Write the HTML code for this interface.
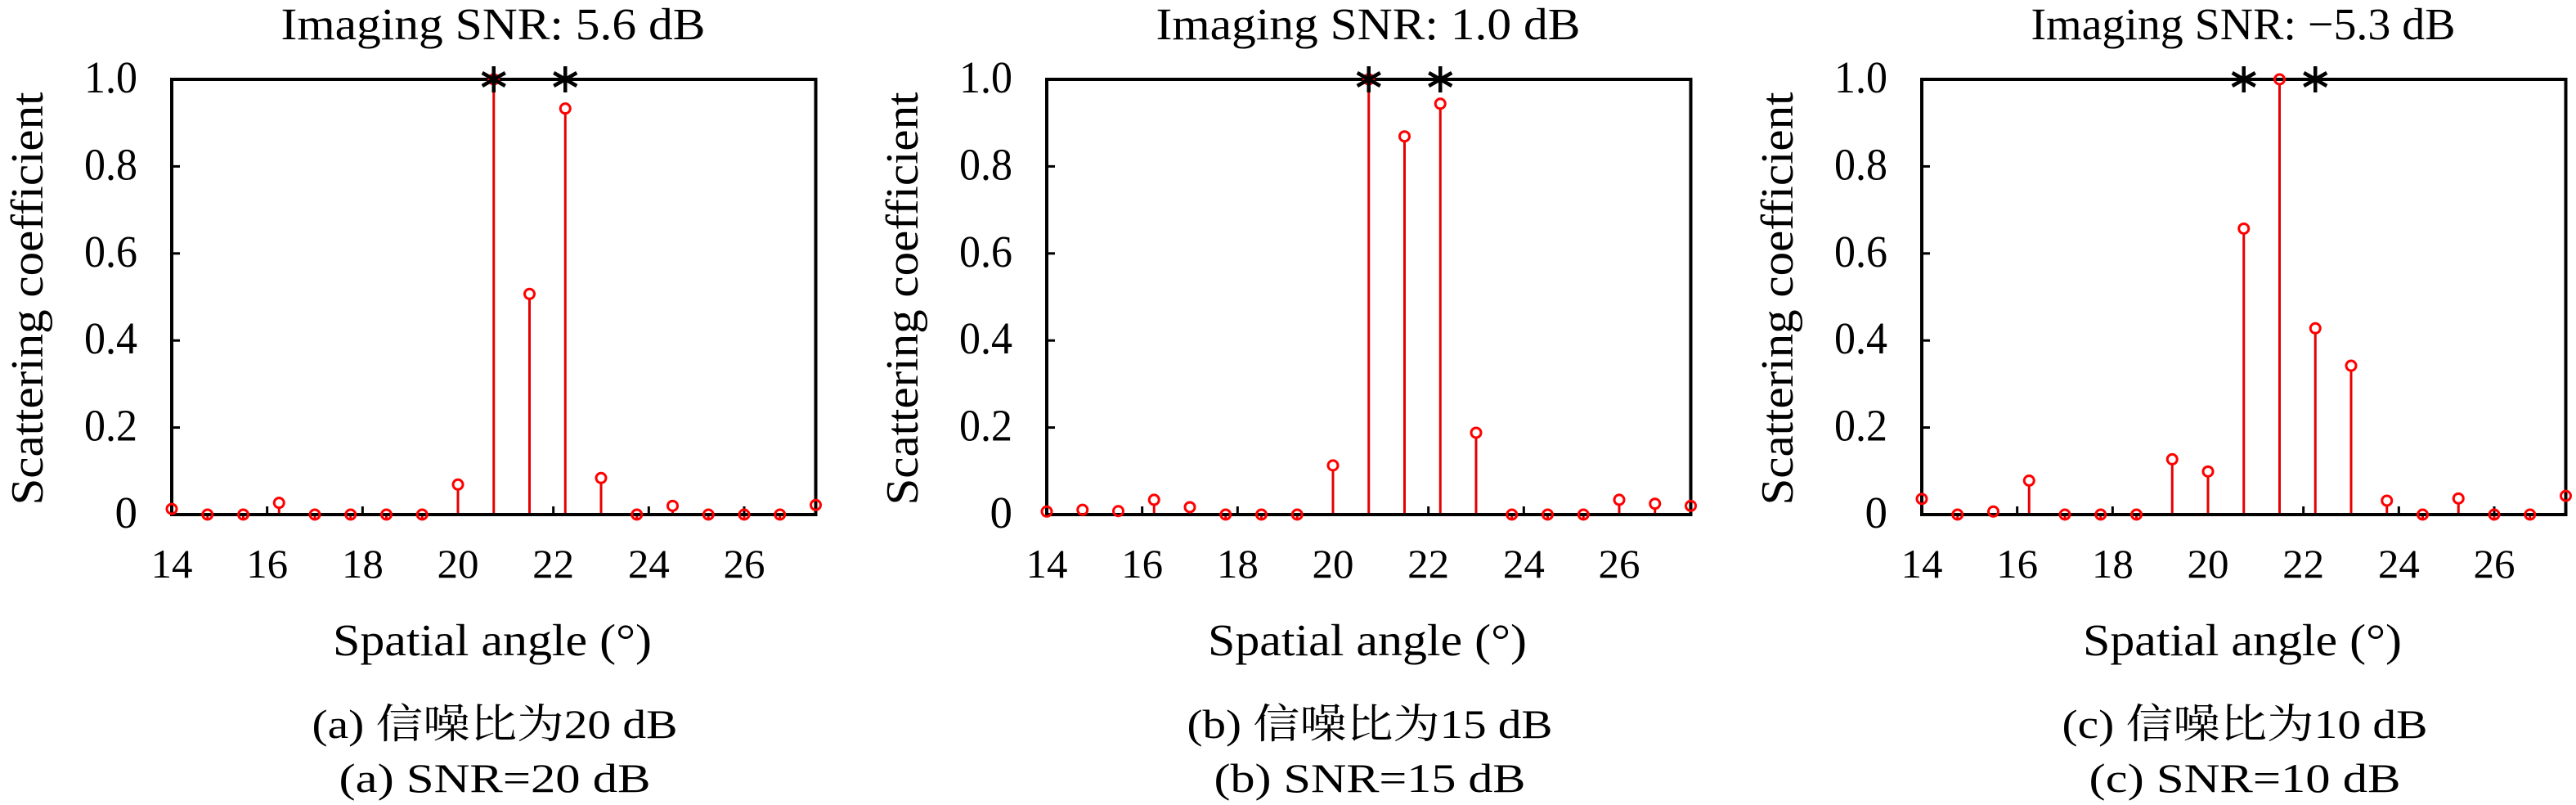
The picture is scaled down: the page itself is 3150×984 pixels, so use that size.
<!DOCTYPE html>
<html><head><meta charset="utf-8">
<style>
html,body{margin:0;padding:0;background:#fff;}
svg{display:block;}
text{font-family:"Liberation Serif","DejaVu Serif","Noto Serif CJK SC",serif;fill:#000;}
</style></head>
<body>
<svg id="chart" width="3150" height="984" viewBox="0 0 3150 984" xmlns="http://www.w3.org/2000/svg"></svg>
<script>
const angles = [14,14.75,15.5,16.25,17,17.75,18.5,19.25,20,20.75,21.5,22.25,23,23.75,24.5,25.25,26,26.75,27.5];
const valuesA = [0.013,0,0,0.027,0,0,0,0,0.069,1.0,0.507,0.933,0.084,0,0.02,0,0,0,0.022];
const valuesB = [0.007,0.011,0.008,0.034,0.017,0,0,0,0.113,1.0,0.869,0.944,0.188,0,0,0,0.034,0.025,0.02];
const valuesC = [0.036,0,0.007,0.078,0,0,0,0.127,0.099,0.657,1.0,0.428,0.342,0.032,0,0.037,0,0,0.043];
const trueAngles = [20.75,22.25];
const trueValues = [1,1];
const xTicks = [14,16,18,20,22,24,26];
const yTicks = [0,0.2,0.4,0.6,0.8,1.0];
const yTickLabels = ["0","0.2","0.4","0.6","0.8","1.0"];
const titles = ["Imaging SNR: 5.6 dB","Imaging SNR: 1.0 dB","Imaging SNR: \u22125.3 dB"];
const captions1 = ["(a) 信噪比为20 dB","(b) 信噪比为15 dB","(c) 信噪比为10 dB"];
const captions2 = ["(a) SNR=20 dB","(b) SNR=15 dB","(c) SNR=10 dB"];
const series = [valuesA, valuesB, valuesC];

const NS = "http://www.w3.org/2000/svg";
const FONT = "Liberation Serif, DejaVu Serif, Noto Serif CJK SC, serif";
const svg = document.getElementById('chart');
function mk(tag, attrs, parent){
  const e = document.createElementNS(NS, tag);
  if (tag === 'text') e.setAttribute('font-family', FONT);
  for (const k in attrs) e.setAttribute(k, attrs[k]);
  parent.appendChild(e);
  return e;
}
const X0 = 210, X1 = 997.5, Y0 = 629, Y1 = 97, XMIN = 14, XMAX = 27.5;
for (let p = 0; p < 3; p++) {
  const off = p * 1070;
  const sx = v => off + X0 + (v - XMIN) / (XMAX - XMIN) * (X1 - X0);
  const sy = v => Y0 - v * (Y0 - Y1);
  const g = mk('g', {}, svg);
  
  
  const cx = off + 603;

  const t = mk('text', {x: cx, y: 48, 'text-anchor': 'middle', 'font-size': 55, textLength: 519, lengthAdjust: 'spacingAndGlyphs'}, g);
  t.textContent = titles[p];
  
  

  xTicks.forEach(v => {
    const tk = mk('line', {x1: sx(v), x2: sx(v), y1: Y0, y2: Y0 - 10, stroke: '#000', 'stroke-width': 3}, g);
    
    
    const lb = mk('text', {x: sx(v), y: 706, 'text-anchor': 'middle', 'font-size': 50, textLength: 51, lengthAdjust: 'spacingAndGlyphs'}, g);
    lb.textContent = String(v);
    
    
  });
  yTicks.forEach((v, i) => {
    const tk = mk('line', {x1: off + X0, x2: off + X0 + 10, y1: sy(v), y2: sy(v), stroke: '#000', 'stroke-width': 3}, g);
    
    
    const lb = mk('text', {x: off + 168, y: sy(v) + 16, 'text-anchor': 'end', 'font-size': 55}, g);
    lb.textContent = yTickLabels[i];
    if (yTickLabels[i].length > 1) { lb.setAttribute('textLength', 65); lb.setAttribute('lengthAdjust', 'spacingAndGlyphs'); }
    
    
  });

  const vals = series[p];
  angles.forEach((a, i) => {
    const v = vals[i];
    const ln = mk('line', {x1: sx(a), x2: sx(a), y1: Y0, y2: sy(v) + 7, stroke: '#e60000', 'stroke-width': 3}, g);
    
    
  });

  const fr = mk('rect', {x: off + X0, y: Y1, width: X1 - X0, height: Y0 - Y1, fill: 'none', stroke: '#000', 'stroke-width': 4}, g);
  
  

  angles.forEach((a, i) => {
    const c = mk('circle', {cx: sx(a), cy: sy(vals[i]), r: 6, fill: 'none', stroke: '#f00', 'stroke-width': 3}, g);
    
    
  });

  trueAngles.forEach((a, i) => {
    const x = sx(a), y = sy(trueValues[i]);
    const s = mk('path', {d: `M${x} ${y-16}L${x} ${y+16}M${x-14} ${y-8}L${x+14} ${y+8}M${x-14} ${y+8}L${x+14} ${y-8}`, stroke: '#000', 'stroke-width': 4.5, fill: 'none'}, g);
    
    
  });

  const xl = mk('text', {x: off + 602, y: 801, 'text-anchor': 'middle', 'font-size': 55, textLength: 390, lengthAdjust: 'spacingAndGlyphs'}, g);
  xl.textContent = 'Spatial angle (°)';
  
  

  const yl = mk('text', {x: 0, y: 0, 'text-anchor': 'middle', 'font-size': 56, textLength: 505, lengthAdjust: 'spacingAndGlyphs', transform: `translate(${off + 52},365) rotate(-90)`}, g);
  yl.textContent = 'Scattering coefficient';
  
  

  const c1 = mk('text', {x: off + 605, y: 902, 'text-anchor': 'middle', 'font-size': 50, textLength: 447, lengthAdjust: 'spacingAndGlyphs'}, g);
  c1.textContent = captions1[p];
  
  
  const c2 = mk('text', {x: off + 605, y: 968, 'text-anchor': 'middle', 'font-size': 50, textLength: 381, lengthAdjust: 'spacingAndGlyphs'}, g);
  c2.textContent = captions2[p];
  
  
}
</script>
</body></html>
